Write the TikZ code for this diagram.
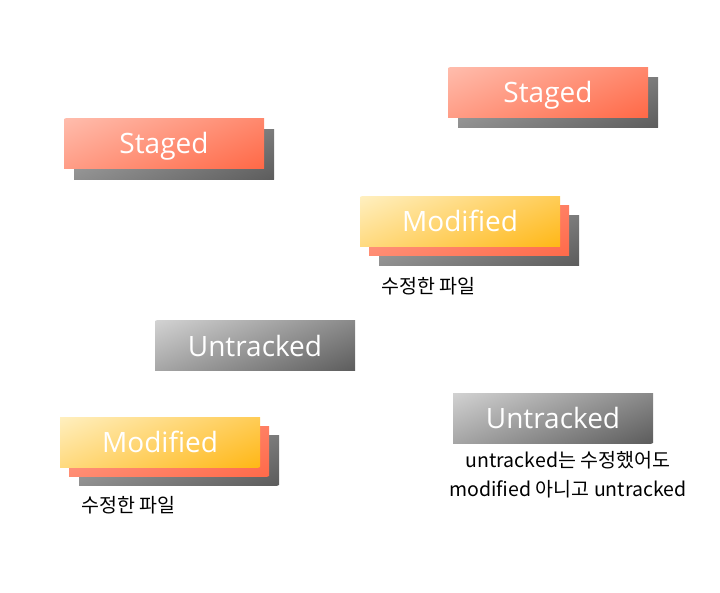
\documentclass[tikz,border=0pt]{standalone}
\usepackage{fontspec}
\setmainfont{Open Sans}
\newfontfamily\kofont{Noto Sans CJK KR}
\definecolor{stA}{HTML}{FFBCAC}
\definecolor{stB}{HTML}{FF6846}
\definecolor{moA}{HTML}{FFEFBF}
\definecolor{moB}{HTML}{FFB716}
\definecolor{grA}{HTML}{D2D2D2}
\definecolor{grB}{HTML}{5C5C5C}
\definecolor{shA}{HTML}{ADADAD}
\definecolor{shB}{HTML}{5C5C5C}
\definecolor{saA}{HTML}{FFA08A}
\definecolor{saB}{HTML}{FF6A4A}
\newcommand\gradbox[4]{%
  \begin{scope}
    \clip (#1,#2) rectangle ++(200,50);
    \shade[left color=#3,right color=#4,transform canvas={shift={(#1,#2)},rotate=-67.38}] (0,-220) rectangle (123.08,220);
  \end{scope}}
\begin{document}
\begin{tikzpicture}[x=1pt,y=-1pt,
  boxlabel/.style={minimum width=200pt,minimum height=50pt,inner sep=0pt,text=white,font=\fontsize{28}{32}\selectfont,text height=20pt,text depth=0pt},
  note/.style={font=\kofont\fontsize{19.5}{24}\selectfont,text=black,inner sep=0pt,align=center}]
\useasboundingbox (0,0) rectangle (720,593);
% Staged (left)
\gradbox{74}{130}{shA}{shB}
\gradbox{64}{119}{stA}{stB}
\node[boxlabel] (s1) at (164,144) {Staged};
% Staged (right)
\gradbox{458}{78}{shA}{shB}
\gradbox{448}{68}{stA}{stB}
\node[boxlabel] (s2) at (548,93) {Staged};
% Modified (right)
\gradbox{379}{216}{shA}{shB}
\gradbox{369}{206}{saA}{saB}
\gradbox{360}{197}{moA}{moB}
\node[boxlabel] (m1) at (460,222) {Modified};
\node[note,anchor=west] (m1n) at (381,286) {수정한 파일};
% Untracked (middle)
\gradbox{155}{321}{grA}{grB}
\node[boxlabel] (u1) at (255,346) {Untracked};
% Modified (left)
\gradbox{79}{435}{shA}{shB}
\gradbox{69}{426}{saA}{saB}
\gradbox{60}{417}{moA}{moB}
\node[boxlabel] (m2) at (160,442) {Modified};
\node[note,anchor=west] (m2n) at (81,505) {수정한 파일};
% Untracked (right)
\gradbox{453}{393}{grA}{grB}
\node[boxlabel] (u2) at (553,418) {Untracked};
\node[note] (u2n1) at (568,460) {untracked는 수정했어도};
\node[note] (u2n2) at (568,489) {modified 아니고 untracked};
\end{tikzpicture}
\end{document}
